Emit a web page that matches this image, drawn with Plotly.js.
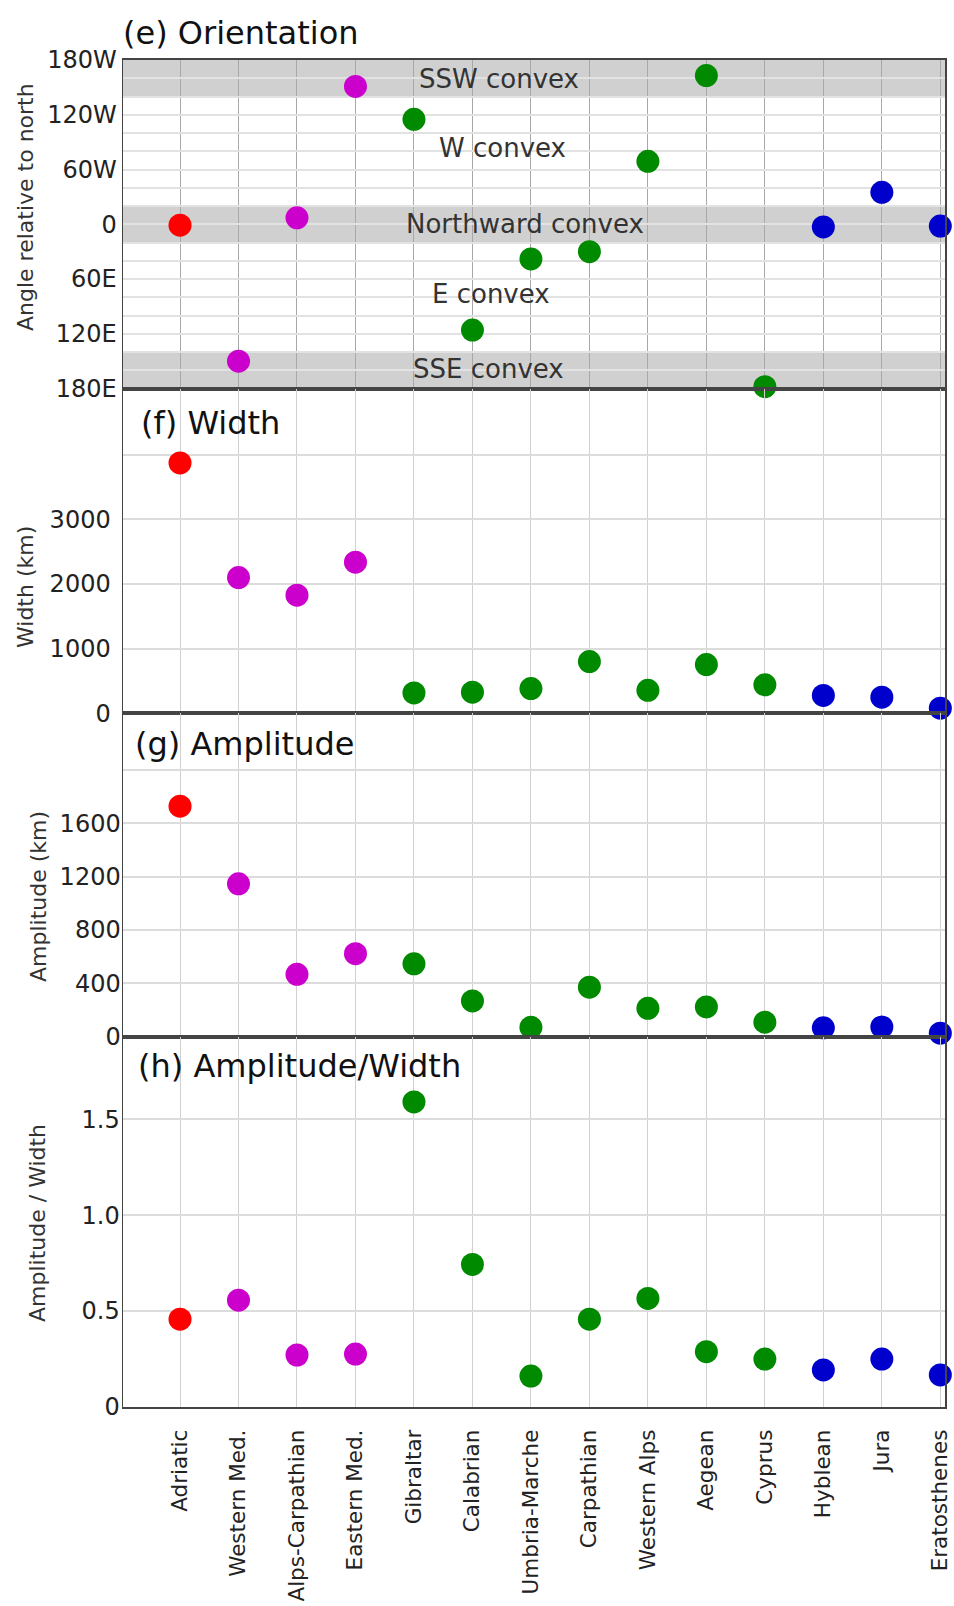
<!DOCTYPE html>
<html>
<head>
<meta charset="utf-8">
<script src="https://cdn.plot.ly/plotly-3.0.1.min.js"></script>
<style>html,body{margin:0;padding:0;background:#fff;}#chart{width:954px;height:1606px;}</style>
</head>
<body>
<div id="chart"></div>
<script>
// ---- data ----
const categories = ['Adriatic','Western Med.','Alps-Carpathian','Eastern Med.','Gibraltar','Calabrian','Umbria-Marche','Carpathian','Western Alps','Aegean','Cyprus','Hyblean','Jura','Eratosthenes'];
const groups = ['red','magenta','magenta','magenta','green','green','green','green','green','green','green','blue','blue','blue'];
// orientation: degrees relative to north, W positive, E negative
const orientation = [-1, -150, 7, 151, 115, -116, -38, -30, 69, 163, -178, -3, 35, -2];
const widthKm = [3870, 2097, 1825, 2335, 314, 326, 383, 800, 355, 753, 440, 277, 249, 79];
const amplitudeKm = [1729, 1147, 468, 623, 547, 268, 70, 371, 213, 223, 109, 67, 73, 26];
const ampOverWidth = [0.458, 0.557, 0.271, 0.276, 1.59, 0.743, 0.161, 0.458, 0.566, 0.288, 0.25, 0.193, 0.25, 0.167];

const orientTickVals = [-180,-160,-140,-120,-100,-80,-60,-40,-20,0,20,40,60,80,100,120,140,160,180];
const orientTickText = ['180E','','','120E','','','60E','','','0','','','60W','','','120W','','','180W'];
const widthTickVals = [0,1000,2000,3000,4000];
const widthTickText = ['0','1000','2000','3000',''];
const ampTickVals = [0,400,800,1200,1600,2000];
const ampTickText = ['0','400','800','1200','1600',''];
const ratioTickVals = [0,0.5,1.0,1.5];
const ratioTickText = ['0','0.5','1.0','1.5'];

const bands = [
  {name:'SSW convex', y0:140, y1:180},
  {name:'Northward convex', y0:-20, y1:20},
  {name:'SSE convex', y0:-180, y1:-140}
];
const bandLabels = [
  {text:'SSW convex', y:159, px:499},
  {text:'W convex', y:84, px:502},
  {text:'Northward convex', y:0, px:525},
  {text:'E convex', y:-76, px:491},
  {text:'SSE convex', y:-159, px:488}
];

const groupColor = {red:'#ff0000', magenta:'#cc00cc', green:'#008a00', blue:'#0000cc'};
const colors = groups.map(g => groupColor[g]);

// ---- layout geometry (pixels) ----
const W = 954, H = 1606;
const L = 123, R = 945, T = 60, B = 1407;
const px2x = p => (p - L) / (R - L);
const py2y = p => (B - p) / (B - T);
const yE = [py2y(388.5), 1];
const yF = [py2y(713.3), py2y(388.5)];
const yG = [py2y(1036.7), py2y(713.3)];
const yH = [0, py2y(1036.7)];
const xRange = [-0.975, 13.08];

const FONT = 'DejaVu Sans';
const mk = {size: 23, color: colors, line: {width: 0}};

function trace(y, xa, ya) {
  return {type:'scatter', mode:'markers', x: categories, y: y, xaxis: xa, yaxis: ya,
          marker: mk, cliponaxis: false, hoverinfo: 'x+y', showlegend: false};
}
const data = [
  trace(orientation, 'x', 'y'),
  trace(widthKm, 'x2', 'y2'),
  trace(amplitudeKm, 'x3', 'y3'),
  trace(ampOverWidth, 'x4', 'y4')
];

function xax(anchor, grid, showLabels) {
  return {
    anchor: anchor, domain: [0, 1], type: 'category', categoryorder: 'array', categoryarray: categories,
    range: xRange, showgrid: true, gridcolor: grid, gridwidth: 1,
    showline: true, linecolor: '#444', linewidth: 2, mirror: true, ticks: '', zeroline: false,
    showticklabels: showLabels, tickangle: -90, ticklabelstandoff: 12,
    tickfont: {family: FONT, size: 21.5, color: '#222'}
  };
}
function yax(anchor, domain, range, tv, tt, standoff, grid) {
  return {
    anchor: anchor, domain: domain, range: range, tickmode: 'array', tickvals: tv, ticktext: tt,
    showgrid: true, gridcolor: grid, gridwidth: 2, zeroline: false,
    showline: true, linecolor: '#444', linewidth: 1.5, mirror: true, ticks: '',
    ticklabelstandoff: standoff, tickfont: {family: FONT, size: 24, color: '#222'}
  };
}

const shapes = bands.map(b => ({type:'rect', xref:'paper', yref:'y', x0:0, x1:1, y0:b.y0, y1:b.y1,
  fillcolor:'#d0d0d0', line:{width:0}, layer:'below'}));

const ann = [];
function addText(text, px, py, size, anchor, angle, color) {
  ann.push({text: text, xref:'paper', yref:'paper', x: px2x(px), y: py2y(py), showarrow:false,
    xanchor: anchor, yanchor:'middle', textangle: angle || 0,
    font: {family: FONT, size: size, color: color || '#111'}});
}
addText('(e) Orientation', 121, 33, 32, 'left');
addText('(f) Width', 139, 423, 32, 'left');
addText('(g) Amplitude', 133, 744, 32, 'left');
addText('(h) Amplitude/Width', 136, 1066, 32, 'left');
addText('Angle relative to north', 26, 207, 22, 'center', -90, '#333');
addText('Width (km)', 25, 587, 22, 'center', -90, '#333');
addText('Amplitude (km)', 38, 897, 22, 'center', -90, '#333');
addText('Amplitude / Width', 37, 1223, 22, 'center', -90, '#333');
bandLabels.forEach(b => ann.push({text: b.text, xref:'paper', yref:'y', x: px2x(b.px), y: b.y,
  showarrow:false, xanchor:'center', yanchor:'middle', font:{family: FONT, size: 26, color:'#333'}}));

const layout = {
  width: W, height: H,
  margin: {l: L, r: W - R, t: T, b: H - B, pad: 0},
  paper_bgcolor: '#fff', plot_bgcolor: 'rgba(0,0,0,0)',
  font: {family: FONT, color: '#222'},
  showlegend: false,
  xaxis: xax('y', '#a8a8a8', false),
  xaxis2: xax('y2', '#d0d0d0', false),
  xaxis3: xax('y3', '#d0d0d0', false),
  xaxis4: xax('y4', '#d0d0d0', true),
  yaxis: yax('x', yE, [-180, 180], orientTickVals, orientTickText, 0, '#e2e2e2'),
  yaxis2: yax('x2', yF, [0, 5020], widthTickVals, widthTickText, 6, '#dcdcdc'),
  yaxis3: yax('x3', yG, [0, 2426], ampTickVals, ampTickText, -4, '#dcdcdc'),
  yaxis4: yax('x4', yH, [0, 1.93], ratioTickVals, ratioTickText, -3, '#dcdcdc'),
  shapes: shapes,
  annotations: ann
};

Plotly.newPlot('chart', data, layout, {staticPlot: true, displayModeBar: false});
</script>
</body>
</html>
